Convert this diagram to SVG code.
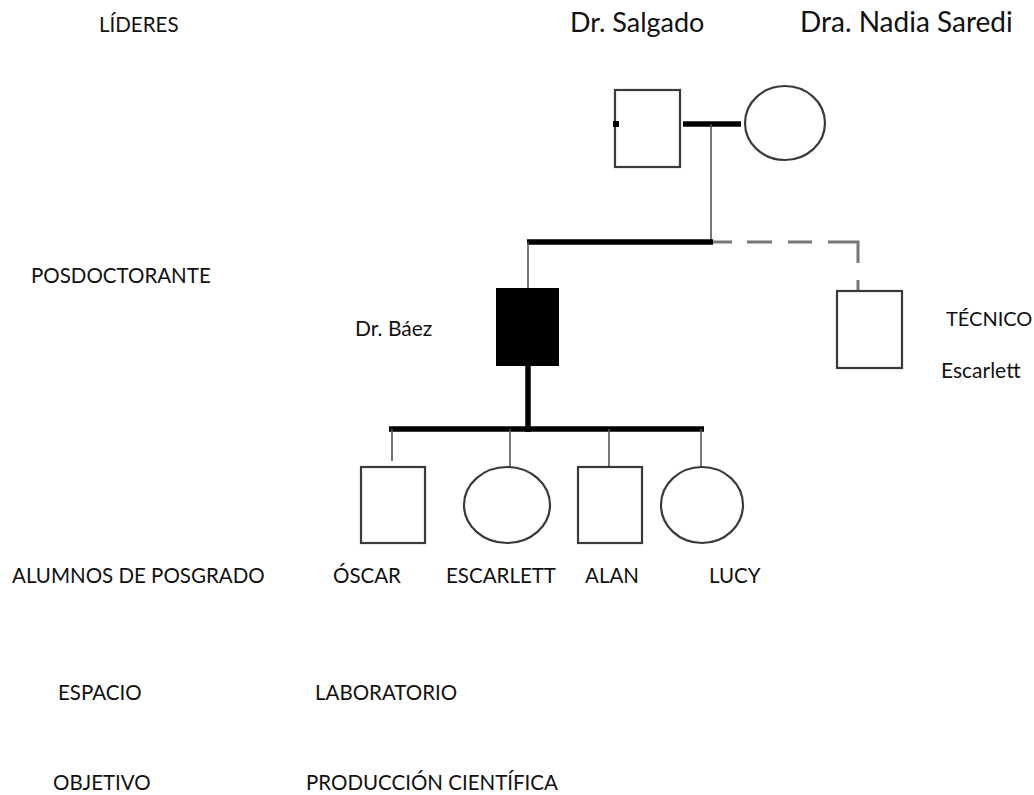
<svg xmlns="http://www.w3.org/2000/svg" width="1034" height="795" viewBox="0 0 1034 795">
<style>
.lbl{font-family:Lato,"Liberation Sans",sans-serif;font-size:20.5px;fill:#111}
.big{font-family:Lato,"Liberation Sans",sans-serif;font-size:27px;fill:#111}
.sm{font-size:21px}
.shape{fill:#fff;stroke:#3a3a3a;stroke-width:2.2}
.thick{stroke:#000;stroke-width:5.5;fill:none}
.thin{stroke:#555;stroke-width:1.6;fill:none}
.dash{stroke:#777;stroke-width:3;fill:none}
</style>
<rect width="1034" height="795" fill="#fff"/>
<g id="labels">
<text class="lbl" x="99" y="32">LÍDERES</text>
<text class="lbl" x="31" y="283">POSDOCTORANTE</text>
<text class="lbl" x="12" y="583">ALUMNOS DE POSGRADO</text>
<text class="lbl" x="58" y="700">ESPACIO</text>
<text class="lbl" x="315" y="700">LABORATORIO</text>
<text class="lbl" x="53" y="790">OBJETIVO</text>
<text class="lbl" x="306" y="790">PRODUCCIÓN CIENTÍFICA</text>
</g>
<g id="connectors">
<line class="thick" x1="683" y1="124" x2="741" y2="124"/>
<line class="thin" x1="711" y1="124" x2="711" y2="242"/>
<line class="thick" x1="527" y1="242" x2="713" y2="242"/>
<path class="dash" d="M713,242H732M747,242H772M788,242H812M828,242H858V263M858,280V291"/>
<line class="thin" x1="528" y1="242" x2="528" y2="288"/>
<line class="thick" x1="528" y1="366" x2="528" y2="432"/>
<line class="thick" x1="389" y1="429" x2="704" y2="429"/>
<line class="thin" x1="392" y1="429" x2="392" y2="461"/>
<line class="thin" x1="510" y1="429" x2="510" y2="467"/>
<line class="thin" x1="609" y1="429" x2="609" y2="467"/>
<line class="thin" x1="701" y1="429" x2="701" y2="467"/>
</g>
<g id="dr-salgado">
<rect class="shape" x="615" y="90" width="65" height="77"/>
<rect x="613" y="121" width="6" height="6" fill="#000"/>
<text class="big" x="570" y="32">Dr. Salgado</text>
</g>
<g id="dra-nadia-saredi">
<ellipse class="shape" cx="785" cy="123" rx="40" ry="37"/>
<text class="big" x="800" y="32" style="font-size:28px">Dra. Nadia Saredi</text>
</g>
<g id="dr-baez">
<rect x="496" y="288" width="63" height="78" fill="#000"/>
<text class="lbl sm" x="355" y="336">Dr. Báez</text>
</g>
<g id="tecnico-escarlett">
<rect class="shape" x="837" y="291" width="65" height="77"/>
<text class="lbl" x="946" y="326" style="font-size:20px">TÉCNICO</text>
<text class="lbl sm" x="941" y="378">Escarlett</text>
</g>
<g id="oscar">
<rect class="shape" x="361" y="467" width="64" height="76"/>
<text class="lbl" x="333" y="583">ÓSCAR</text>
</g>
<g id="escarlett">
<ellipse class="shape" cx="507" cy="505" rx="43" ry="38"/>
<text class="lbl" x="446" y="583">ESCARLETT</text>
</g>
<g id="alan">
<rect class="shape" x="578" y="467" width="64" height="76"/>
<text class="lbl" x="585" y="583">ALAN</text>
</g>
<g id="lucy">
<ellipse class="shape" cx="702" cy="505" rx="41" ry="38"/>
<text class="lbl" x="709" y="583">LUCY</text>
</g>
</svg>
